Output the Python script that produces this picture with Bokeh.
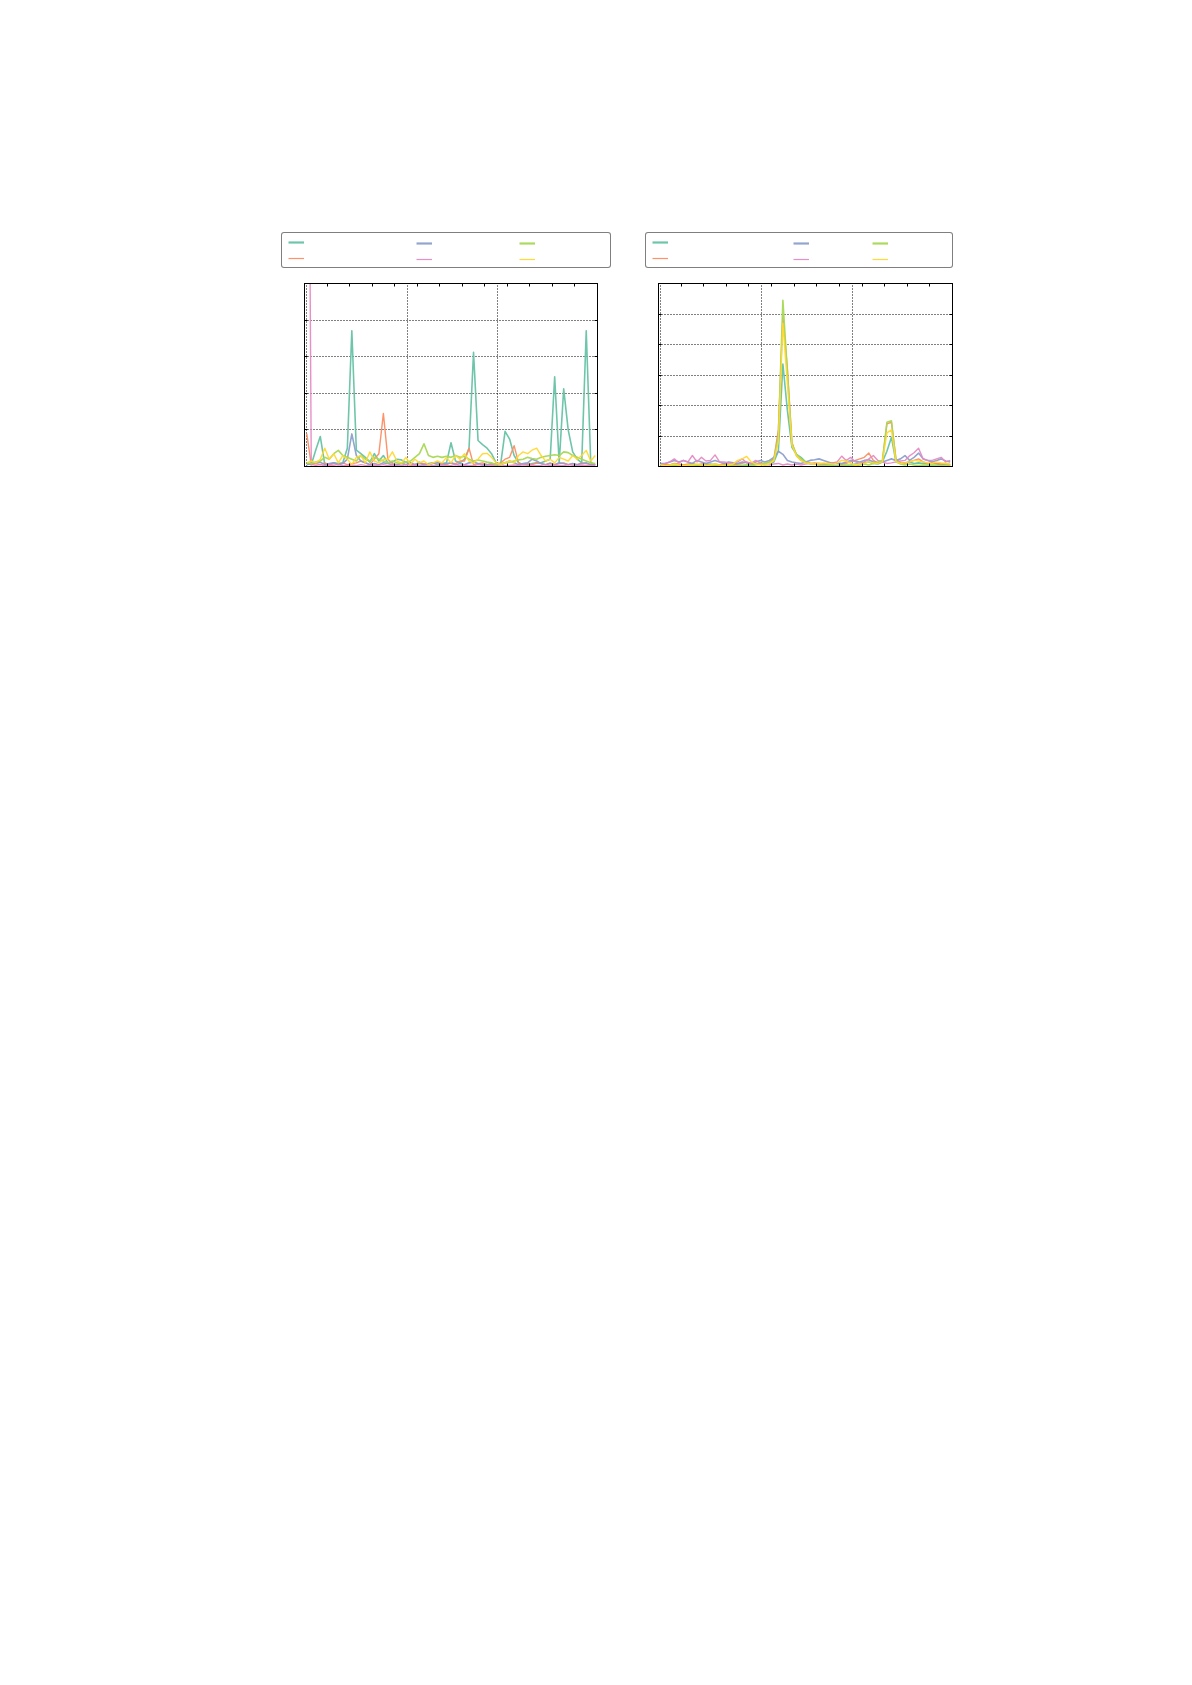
from bokeh.plotting import figure
from bokeh.models import Range1d, LinearAxis, FixedTicker, Legend, LegendItem, ColumnDataSource
from bokeh.layouts import row, column
from bokeh.embed import file_html
from bokeh.resources import INLINE
from bokeh.core.properties import value

# ---------------- data ----------------
x_vals = list(range(1, 130, 2))  # sample positions (65 points)

x_minor_ticks = [0, 10, 20, 30, 40, 50, 60, 70, 80, 90, 100, 110, 120, 130]
x_grid_lines = [1, 45.6, 85.8]
left_y_ticks = [0, 1, 2, 3, 4, 5]
right_y_ticks = [0, 1, 2, 3, 4, 5, 6]

series_names = ["s1", "s2", "s3", "s4", "s5", "s6"]
series_colors = ["#66c2a5", "#fc8d62", "#8da0cb", "#e78ac3", "#a6d854", "#ffd92f"]
series_widths = [1.6, 1.4, 1.6, 1.4, 1.6, 1.4]
legend_widths = [2.2, 1.2, 2.2, 1.2, 2.2, 1.2]

# left panel
left_teal = [0.10, 0.05, 0.45, 0.82, 0.05, 0.05, 0.10, 0.08, 0.10, 0.50,
             3.71, 0.45, 0.35, 0.25, 0.12, 0.35, 0.15, 0.30, 0.10, 0.12,
             0.20, 0.18, 0.12, 0.08, 0.05, 0.12, 0.05, 0.08, 0.10, 0.05,
             0.08, 0.10, 0.65, 0.15, 0.10, 0.20, 0.50, 3.12, 0.71, 0.60,
             0.50, 0.35, 0.10, 0.05, 0.96, 0.75, 0.30, 0.10, 0.05, 0.05,
             0.08, 0.10, 0.10, 0.15, 0.20, 2.45, 0.10, 2.12, 1.00, 0.40,
             0.20, 0.10, 3.71, 0.10, 0.05]
left_orange = [0.90, 0.05, 0.08, 0.05, 0.10, 0.05, 0.08, 0.05, 0.10, 0.05,
               0.08, 0.10, 0.15, 0.10, 0.05, 0.20, 0.35, 1.45, 0.20, 0.08,
               0.05, 0.10, 0.05, 0.08, 0.05, 0.10, 0.08, 0.05, 0.10, 0.12,
               0.08, 0.05, 0.10, 0.08, 0.15, 0.15, 0.50, 0.05, 0.08, 0.10,
               0.05, 0.05, 0.08, 0.10, 0.20, 0.25, 0.57, 0.10, 0.05, 0.08,
               0.05, 0.10, 0.08, 0.05, 0.10, 0.05, 0.08, 0.10, 0.05, 0.08,
               0.05, 0.10, 0.08, 0.05, 0.05]
left_blue = [0.05, 0.08, 0.10, 0.12, 0.05, 0.08, 0.10, 0.05, 0.08, 0.20,
             0.89, 0.30, 0.15, 0.10, 0.05, 0.08, 0.05, 0.10, 0.08, 0.05,
             0.05, 0.08, 0.05, 0.10, 0.05, 0.08, 0.05, 0.05, 0.08, 0.10,
             0.05, 0.08, 0.10, 0.05, 0.08, 0.05, 0.10, 0.12, 0.08, 0.05,
             0.05, 0.08, 0.05, 0.05, 0.10, 0.15, 0.10, 0.05, 0.08, 0.10,
             0.20, 0.15, 0.08, 0.05, 0.08, 0.05, 0.10, 0.08, 0.05, 0.08,
             0.05, 0.08, 0.10, 0.05, 0.05]
left_pink = [20.0, 0.05, 0.03, 0.05, 0.02, 0.04, 0.03, 0.05, 0.02, 0.03,
             0.04, 0.02, 0.05, 0.03, 0.02, 0.04, 0.03, 0.05, 0.02, 0.04,
             0.03, 0.02, 0.05, 0.03, 0.04, 0.02, 0.03, 0.05, 0.02, 0.03,
             0.04, 0.02, 0.03, 0.05, 0.02, 0.04, 0.03, 0.02, 0.05, 0.03,
             0.02, 0.04, 0.03, 0.05, 0.02, 0.03, 0.04, 0.02, 0.05, 0.03,
             0.04, 0.02, 0.03, 0.05, 0.02, 0.04, 0.03, 0.02, 0.05, 0.03,
             0.02, 0.04, 0.03, 0.02, 0.03]
left_green = [0.10, 0.08, 0.12, 0.15, 0.25, 0.20, 0.35, 0.44, 0.30, 0.25,
              0.20, 0.15, 0.30, 0.20, 0.15, 0.25, 0.20, 0.15, 0.10, 0.15,
              0.10, 0.08, 0.12, 0.15, 0.25, 0.35, 0.62, 0.30, 0.25, 0.28,
              0.25, 0.28, 0.25, 0.30, 0.25, 0.28, 0.20, 0.15, 0.18, 0.15,
              0.12, 0.10, 0.05, 0.08, 0.10, 0.12, 0.15, 0.18, 0.20, 0.25,
              0.22, 0.20, 0.25, 0.28, 0.30, 0.32, 0.30, 0.40, 0.38, 0.30,
              0.25, 0.20, 0.15, 0.10, 0.08]
left_yellow = [0.10, 0.15, 0.10, 0.20, 0.50, 0.20, 0.35, 0.10, 0.30, 0.20,
               0.05, 0.25, 0.30, 0.10, 0.40, 0.15, 0.10, 0.20, 0.20, 0.40,
               0.15, 0.10, 0.25, 0.05, 0.20, 0.10, 0.15, 0.05, 0.10, 0.15,
               0.10, 0.25, 0.10, 0.30, 0.20, 0.35, 0.15, 0.10, 0.20, 0.35,
               0.36, 0.25, 0.10, 0.05, 0.10, 0.15, 0.10, 0.30, 0.40, 0.35,
               0.45, 0.50, 0.30, 0.15, 0.20, 0.10, 0.25, 0.20, 0.15, 0.30,
               0.20, 0.30, 0.44, 0.15, 0.30]

# right panel
right_teal = [0.05, 0.03, 0.05, 0.08, 0.05, 0.03, 0.05, 0.08, 0.05, 0.03,
              0.05, 0.08, 0.05, 0.03, 0.05, 0.05, 0.08, 0.05, 0.03, 0.05,
              0.05, 0.08, 0.10, 0.05, 0.08, 0.15, 0.50, 3.36, 1.83, 0.63,
              0.40, 0.30, 0.15, 0.10, 0.08, 0.10, 0.05, 0.08, 0.05, 0.03,
              0.05, 0.03, 0.05, 0.08, 0.10, 0.12, 0.15, 0.10, 0.08, 0.15,
              0.50, 0.96, 0.15, 0.10, 0.12, 0.15, 0.10, 0.12, 0.10, 0.08,
              0.10, 0.08, 0.05, 0.08, 0.05]
right_orange = [0.05, 0.08, 0.05, 0.10, 0.08, 0.05, 0.08, 0.10, 0.05, 0.08,
                0.10, 0.05, 0.08, 0.05, 0.10, 0.08, 0.05, 0.08, 0.10, 0.15,
                0.10, 0.08, 0.12, 0.10, 0.15, 0.25, 1.20, 4.90, 3.20, 0.80,
                0.35, 0.20, 0.15, 0.10, 0.12, 0.10, 0.08, 0.10, 0.12, 0.10,
                0.08, 0.10, 0.15, 0.20, 0.25, 0.30, 0.44, 0.20, 0.12, 0.15,
                1.40, 1.45, 0.25, 0.12, 0.10, 0.15, 0.20, 0.25, 0.15, 0.10,
                0.12, 0.10, 0.08, 0.10, 0.05]
right_blue = [0.10, 0.10, 0.15, 0.20, 0.15, 0.20, 0.15, 0.10, 0.20, 0.15,
              0.10, 0.15, 0.20, 0.15, 0.10, 0.15, 0.12, 0.10, 0.15, 0.12,
              0.10, 0.15, 0.20, 0.15, 0.20, 0.30, 0.50, 0.40, 0.20, 0.15,
              0.12, 0.10, 0.15, 0.20, 0.22, 0.25, 0.20, 0.15, 0.10, 0.12,
              0.10, 0.15, 0.20, 0.18, 0.15, 0.20, 0.22, 0.15, 0.12, 0.15,
              0.20, 0.25, 0.20, 0.25, 0.36, 0.20, 0.30, 0.44, 0.25, 0.20,
              0.15, 0.20, 0.25, 0.18, 0.15]
right_pink = [0.05, 0.10, 0.15, 0.25, 0.12, 0.20, 0.15, 0.36, 0.15, 0.30,
              0.18, 0.20, 0.38, 0.15, 0.15, 0.12, 0.10, 0.15, 0.25, 0.12,
              0.10, 0.20, 0.12, 0.08, 0.05, 0.08, 0.10, 0.05, 0.08, 0.05,
              0.08, 0.05, 0.08, 0.10, 0.08, 0.05, 0.08, 0.10, 0.12, 0.15,
              0.34, 0.20, 0.30, 0.15, 0.10, 0.15, 0.25, 0.36, 0.20, 0.15,
              0.10, 0.12, 0.15, 0.18, 0.20, 0.35, 0.45, 0.60, 0.25, 0.20,
              0.20, 0.25, 0.30, 0.15, 0.20]
right_green = [0.03, 0.02, 0.03, 0.05, 0.03, 0.02, 0.03, 0.05, 0.03, 0.02,
               0.03, 0.05, 0.03, 0.02, 0.03, 0.05, 0.03, 0.02, 0.03, 0.05,
               0.03, 0.05, 0.08, 0.10, 0.15, 0.20, 1.00, 5.45, 3.10, 0.74,
               0.40, 0.25, 0.15, 0.10, 0.08, 0.05, 0.03, 0.05, 0.03, 0.02,
               0.03, 0.05, 0.03, 0.02, 0.05, 0.08, 0.05, 0.10, 0.15, 0.20,
               1.45, 1.50, 0.20, 0.08, 0.05, 0.08, 0.05, 0.03, 0.05, 0.03,
               0.05, 0.03, 0.02, 0.03, 0.02]
right_yellow = [0.05, 0.03, 0.05, 0.08, 0.05, 0.03, 0.05, 0.05, 0.08, 0.05,
                0.03, 0.05, 0.08, 0.05, 0.03, 0.05, 0.08, 0.20, 0.25, 0.33,
                0.15, 0.08, 0.05, 0.05, 0.08, 0.20, 0.80, 4.70, 2.70, 0.70,
                0.35, 0.20, 0.12, 0.10, 0.08, 0.10, 0.12, 0.10, 0.08, 0.12,
                0.20, 0.18, 0.10, 0.05, 0.08, 0.10, 0.15, 0.12, 0.10, 0.15,
                1.10, 1.20, 0.15, 0.10, 0.12, 0.15, 0.20, 0.18, 0.15, 0.12,
                0.10, 0.15, 0.12, 0.10, 0.08]

left_series = [left_teal, left_orange, left_blue, left_pink, left_green, left_yellow]
right_series = [right_teal, right_orange, right_blue, right_pink, right_green, right_yellow]


def style_axis(ax, minor):
    ax.ticker = FixedTicker(ticks=[], minor_ticks=minor)
    ax.axis_line_color = "black"
    ax.axis_line_width = 1
    ax.major_tick_line_color = None
    ax.minor_tick_line_color = "black"
    ax.minor_tick_line_width = 1
    ax.minor_tick_in = 3
    ax.minor_tick_out = 0


def make_panel(sources, y_max, y_ticks, y_grid, border_left, border_right, frame_w):
    p = figure(frame_width=frame_w, frame_height=183,
               x_range=Range1d(0, 130), y_range=Range1d(0, y_max),
               output_backend="svg", toolbar_location=None,
               min_border_left=border_left, min_border_right=border_right,
               min_border_top=13, min_border_bottom=30,
               background_fill_color="white", border_fill_color="white")
    p.add_layout(LinearAxis(), "above")
    p.add_layout(LinearAxis(), "right")
    for ax in p.xaxis:
        style_axis(ax, x_minor_ticks)
    for ax in p.yaxis:
        style_axis(ax, y_ticks)
    p.xgrid.ticker = FixedTicker(ticks=x_grid_lines)
    p.ygrid.ticker = FixedTicker(ticks=y_grid)
    p.grid.grid_line_color = "black"
    p.grid.grid_line_dash = "1 2"
    p.grid.grid_line_width = 1
    p.grid.grid_line_alpha = 1
    p.outline_line_color = "black"
    for src, col, w in zip(sources, series_colors, series_widths):
        p.line("x", "y", source=src, line_color=col, line_width=w,
               line_alpha=0.95, line_join="round")
    return p


def make_legend_fig(sources, total_w, offsets, box_w):
    # legend-only figure: its frame spans the whole width and holds the
    # legend box; the series are plotted out of view so only the legend shows
    lf = figure(frame_width=total_w - 10, frame_height=38,
                x_range=Range1d(1000, 1001), y_range=Range1d(0, 1),
                x_axis_type=None, y_axis_type=None,
                output_backend="svg", toolbar_location=None,
                min_border_left=5, min_border_right=5,
                min_border_top=232, min_border_bottom=0,
                outline_line_color=None,
                background_fill_color="white", border_fill_color="white")
    rends = []
    for src, col, w in zip(sources, series_colors, legend_widths):
        rends.append(lf.line("x", "y", source=src, line_color=col, line_width=w,
                             line_alpha=0.95))
    common = dict(padding=6, spacing=10, glyph_width=16, glyph_height=6,
                  label_height=6, label_standoff=5, margin=0,
                  label_text_font_size="4px", label_text_font="DejaVu Sans",
                  orientation="vertical")
    xa, xb, xc = offsets
    vy = 2
    la = Legend(items=[LegendItem(label=value(""), renderers=[rends[0]]),
                       LegendItem(label=value(""), renderers=[rends[1]])],
                location=(xa, vy), label_width=box_w - 12 - 16 - 5,
                border_line_color="black", border_line_width=1,
                background_fill_color="white", background_fill_alpha=1,
                **common)
    if "border_radius" in Legend.properties():
        la.border_radius = 3
    lb = Legend(items=[LegendItem(label=value(""), renderers=[rends[2]]),
                       LegendItem(label=value(""), renderers=[rends[3]])],
                location=(xb, vy), label_width=20,
                border_line_alpha=0, background_fill_alpha=0, **common)
    lc = Legend(items=[LegendItem(label=value(""), renderers=[rends[4]]),
                       LegendItem(label=value(""), renderers=[rends[5]])],
                location=(xc, vy), label_width=20,
                border_line_alpha=0, background_fill_alpha=0, **common)
    lf.add_layout(la, "center")
    lf.add_layout(lb, "center")
    lf.add_layout(lc, "center")
    return lf


left_sources = [ColumnDataSource(dict(x=x_vals, y=ys)) for ys in left_series]
right_sources = [ColumnDataSource(dict(x=x_vals, y=ys)) for ys in right_series]

# left chart column (x 0..630)
lf1 = make_legend_fig(left_sources, 630, (278, 407, 510), 328)
p1 = make_panel(left_sources, 5, left_y_ticks, [1, 2, 3, 4], 304, 33, 293)
# right chart column (x 630..982)
lf2 = make_legend_fig(right_sources, 352, (12, 154, 233), 306)
p2 = make_panel(right_sources, 6, right_y_ticks, [1, 2, 3, 4, 5], 28, 30, 294)

layout = row(column(lf1, p1), column(lf2, p2))
open("out.html", "w").write(file_html(layout, INLINE))
